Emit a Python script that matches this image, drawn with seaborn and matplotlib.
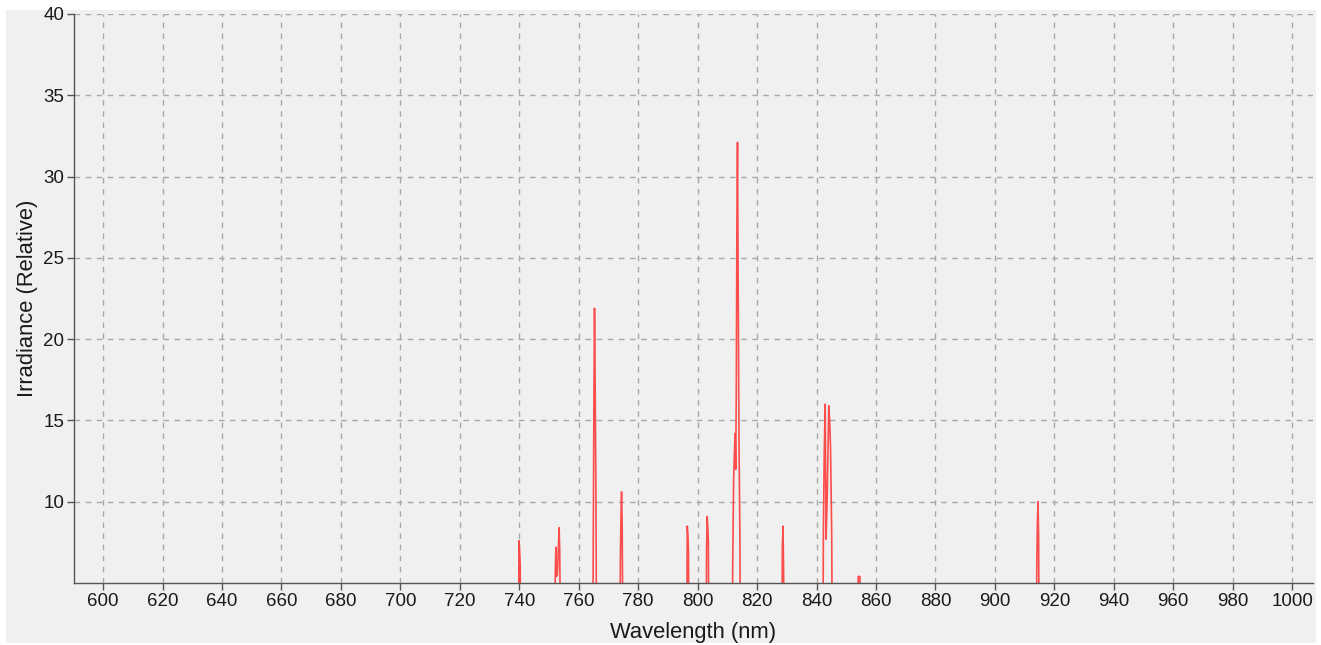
import matplotlib
matplotlib.use('Agg')
import matplotlib.pyplot as plt
import seaborn as sns
import pandas as pd
from matplotlib.patches import Rectangle

# emission lines, sampled points (nm, relative irradiance); 0 = baseline below the axis
wavelength = [
    590.0,
    739.7, 739.9, 740.1, 740.3, 740.5,
    751.9, 752.1, 752.3, 752.5, 752.8, 753.1, 753.4, 753.6, 753.9,
    764.7, 764.9, 765.1, 765.3, 765.5, 765.8, 766.0,
    773.8, 774.0, 774.2, 774.4, 774.6, 774.9,
    796.3, 796.5, 796.7, 796.9, 797.1,
    802.8, 803.0, 803.2, 803.4, 803.6, 803.8,
    811.6, 811.8, 812.1, 812.4, 812.6, 812.8, 813.0, 813.2, 813.4, 813.6, 813.9, 814.2, 814.4,
    828.3, 828.5, 828.7, 828.9, 829.1,
    842.1, 842.3, 842.6, 842.9, 843.2, 843.6, 844.1, 844.4, 844.7, 845.1, 845.3,
    853.9, 854.0, 854.6, 854.7,
    913.9, 914.1, 914.3, 914.5, 914.7, 914.9,
    1007.0,
]
irradiance = [
    0,
    0, 7.6, 7.0, 6.1, 0,
    0, 5.5, 7.2, 5.4, 5.5, 6.9, 8.4, 6.9, 0,
    0, 8.5, 16.2, 21.9, 17.8, 9.7, 0,
    0, 6.3, 9.1, 10.6, 8.6, 0,
    0, 8.5, 8.0, 7.0, 0,
    0, 7.1, 9.1, 8.5, 7.5, 0,
    0, 6.3, 11.3, 13.2, 14.2, 12.0, 17.0, 27.0, 32.1, 24.4, 13.8, 8.0, 0,
    0, 7.3, 8.5, 5.9, 0,
    0, 8.3, 13.2, 16.0, 7.7, 10.4, 15.9, 15.0, 13.3, 7.9, 0,
    0, 5.4, 5.4, 0,
    0, 6.4, 8.8, 10.0, 7.8, 0,
    0,
]
x_ticks = list(range(600, 1001, 20))
y_ticks = [10, 15, 20, 25, 30, 35, 40]

df = pd.DataFrame({'Wavelength': wavelength, 'Irradiance': irradiance})

sns.set_style('white')
plt.rcParams['font.family'] = ['Liberation Sans', 'DejaVu Sans']

bg = '#f0f0f0'
fig = plt.figure(figsize=(13.21, 6.45), dpi=100, facecolor='white')
fig.patches.append(Rectangle((6 / 1321, 2 / 645), 1310 / 1321, 633 / 645,
                             transform=fig.transFigure, facecolor=bg,
                             edgecolor='none', zorder=-10))
ax = fig.add_axes([74 / 1321, 62 / 645, 1239 / 1321, 569 / 645])
ax.set_facecolor(bg)

sns.lineplot(data=df, x='Wavelength', y='Irradiance', ax=ax, estimator=None,
             sort=False, color='#ff3030', linewidth=1.2, alpha=0.85)

ax.set_xlim(590.2, 1007.0)
ax.set_ylim(5, 40)
ax.set_xticks(x_ticks)
ax.set_yticks(y_ticks)
ax.grid(True, color='#a8a8a8', linestyle=(0, (4, 4)), linewidth=1.0)
ax.set_axisbelow(True)

for s in ['top', 'right']:
    ax.spines[s].set_visible(False)
for s in ['left', 'bottom']:
    ax.spines[s].set_color('#555555')
    ax.spines[s].set_linewidth(1.0)

ax.tick_params(axis='both', which='both', length=5, width=1, color='#555555',
               labelsize=13.5, labelcolor='#1a1a1a', pad=2, left=True, bottom=True)

ax.set_xlabel('Wavelength (nm)', fontsize=15.8, color='#1a1a1a', labelpad=8.5)
ax.set_ylabel('Irradiance (Relative)', fontsize=15.8, color='#1a1a1a', labelpad=4)

plt.savefig('out.png', dpi=100, facecolor='white')
plt.close()
